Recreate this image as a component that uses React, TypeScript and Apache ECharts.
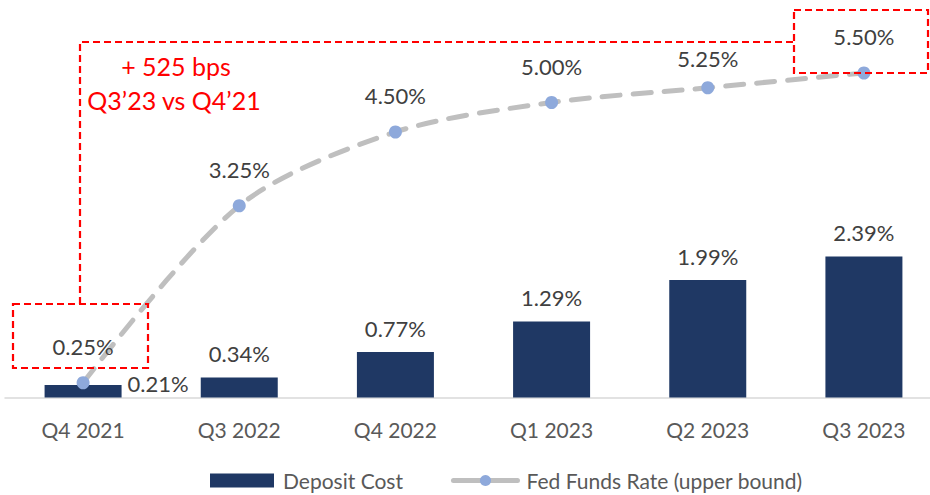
import React, { useEffect, useRef } from "react";
import * as echarts from "echarts";

const categories = ["Q4 2021", "Q3 2022", "Q4 2022", "Q1 2023", "Q2 2023", "Q3 2023"];
const depositCost = [0.21, 0.34, 0.77, 1.29, 1.99, 2.39];
const fedFundsRate = [0.25, 3.25, 4.5, 5.0, 5.25, 5.5];
const fedLabelDistance = [19, 19, 19, 19, 12, 19];
const annotationLines = ["+ 525 bps", "Q3\u201923 vs Q4\u201921"];

const FONT = "Lato, 'Noto Sans', sans-serif";
const RED = "#FF0000";

export default function App() {
  const ref = useRef<HTMLDivElement>(null);

  useEffect(() => {
    if (!ref.current) return;
    const chart = echarts.init(ref.current, undefined, { renderer: "svg" });
    const pct = (v: number) => v.toFixed(2) + "%";

    chart.setOption({
      animation: false,
      textStyle: { fontFamily: FONT },
      grid: {
        left: 5,
        width: 937,
        top: 14,
        bottom: 97.5,
        containLabel: false,
        outerBoundsMode: "none",
      },
      xAxis: {
        type: "category",
        data: categories,
        axisLine: { show: true, lineStyle: { color: "#D9D9D9", width: 1.5 } },
        axisTick: { show: false },
        axisLabel: { color: "#595959", fontSize: 21, margin: 21, fontFamily: FONT },
      },
      yAxis: {
        type: "value",
        min: 0,
        max: 6.5,
        show: false,
        splitLine: { show: false },
      },
      legend: {
        left: 210,
        top: 470,
        padding: 0,
        itemWidth: 64,
        itemHeight: 14,
        itemGap: 48,
        textStyle: { color: "#595959", fontSize: 21, fontFamily: FONT, padding: [0, 0, 0, 4] },
        data: [
          { name: "Deposit Cost", icon: "rect" },
          {
            name: "Fed Funds Rate (upper bound)",
            lineStyle: { width: 5, type: "solid", cap: "round", color: "#BFBFBF" },
          },
        ],
      },
      series: [
        {
          name: "Deposit Cost",
          type: "bar",
          barWidth: 77,
          itemStyle: { color: "#1F3864" },
          z: 2,
          label: {
            show: true,
            position: "top",
            distance: 13,
            color: "#404040",
            fontSize: 22,
            fontFamily: FONT,
            formatter: (p: any) => pct(p.value),
          },
          data: depositCost.map((v, i) =>
            i === 0
              ? { value: v, label: { position: "right", distance: 6, offset: [0, -8] } }
              : { value: v }
          ),
        },
        {
          name: "Fed Funds Rate (upper bound)",
          type: "line",
          smooth: 0.3,
          z: 5,
          symbol: "circle",
          symbolSize: 13,
          lineStyle: { color: "#BFBFBF", width: 5, type: [18, 13], cap: "round" },
          itemStyle: { color: "#8EA9DB", borderWidth: 0 },
          label: {
            show: true,
            position: "top",
            color: "#404040",
            fontSize: 22,
            fontFamily: FONT,
            formatter: (p: any) => pct(p.value),
          },
          data: fedFundsRate.map((v, i) => ({ value: v, label: { distance: fedLabelDistance[i] } })),
        },
      ],
      graphic: [
        {
          type: "rect",
          shape: { x: 13, y: 304, width: 135, height: 64 },
          style: { fill: "none", stroke: RED, lineWidth: 2.2, lineDash: [7, 4] },
          z: 100,
        },
        {
          type: "rect",
          shape: { x: 794, y: 10, width: 134, height: 63 },
          style: { fill: "none", stroke: RED, lineWidth: 2.2, lineDash: [7, 4] },
          z: 100,
        },
        {
          type: "polyline",
          shape: { points: [[80, 304], [80, 42], [794, 42]] },
          style: { fill: "none", stroke: RED, lineWidth: 2.2, lineDash: [7, 4] },
          z: 100,
        },
        {
          type: "text",
          x: 176,
          y: 66,
          style: {
            text: annotationLines[0],
            fill: RED,
            fontSize: 25,
            fontFamily: FONT,
            align: "center",
            verticalAlign: "middle",
          },
          z: 100,
        },
        {
          type: "text",
          x: 174,
          y: 100,
          style: {
            text: annotationLines[1],
            fill: RED,
            fontSize: 25,
            fontFamily: FONT,
            align: "center",
            verticalAlign: "middle",
          },
          z: 100,
        },
      ],
    });

    return () => chart.dispose();
  }, []);

  return (
    <div
      style={{
        position: "fixed",
        left: 0,
        top: 0,
        width: 930,
        height: 495,
        overflow: "hidden",
        background: "#fff",
      }}
    >
      <div ref={ref} style={{ width: 930, height: 495 }} />
    </div>
  );
}
